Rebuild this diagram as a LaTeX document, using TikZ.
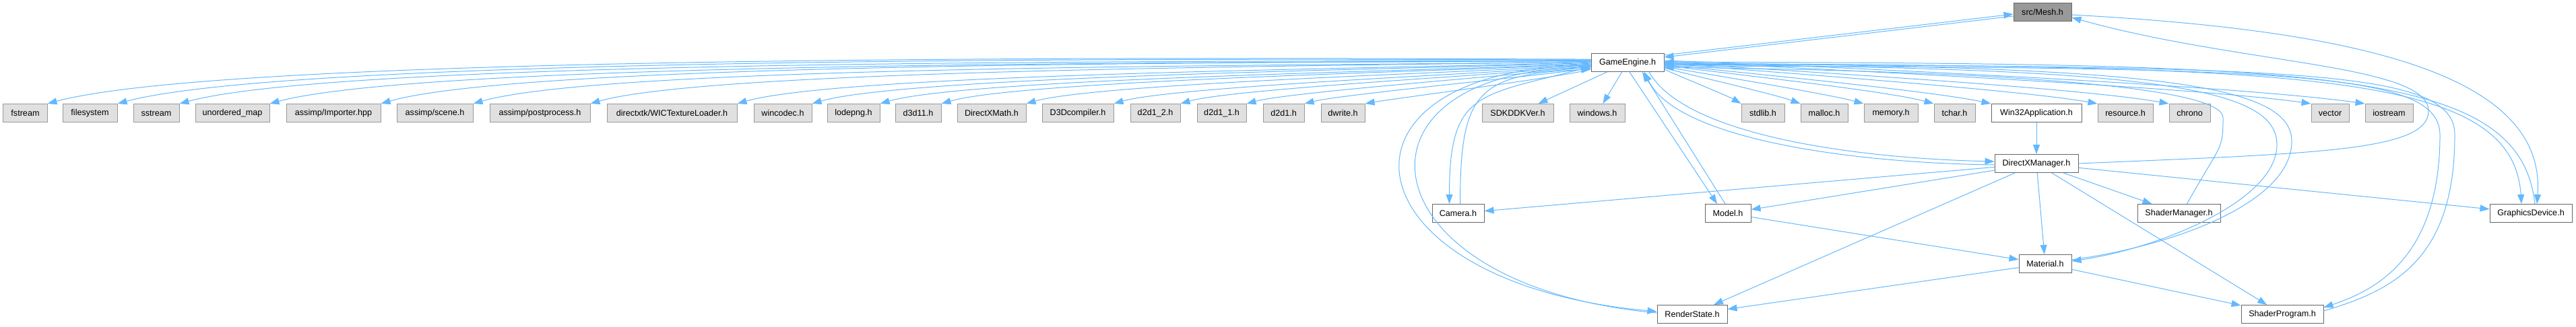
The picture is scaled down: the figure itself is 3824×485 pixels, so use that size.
\documentclass[tikz,border=0pt]{standalone}
\usepackage{fontspec}
\setmainfont{Liberation Sans}
\usetikzlibrary{arrows.meta}
\usepackage{xcolor}
\definecolor{EdgeBlue}{HTML}{63B8FF}
\definecolor{ExtFill}{HTML}{E0E0E0}
\definecolor{ExtLine}{HTML}{999999}
\definecolor{DocLine}{HTML}{666666}
\definecolor{RootFill}{HTML}{999999}

\begin{document}
\begin{tikzpicture}[
      x=0.2pt, y=0.2pt,
      every node/.style={font=\fontsize{2.52}{3}\selectfont},
      file/.style={rectangle, minimum height=5.4pt, inner sep=0pt, line width=0.2pt},
      ext/.style={file, draw=ExtLine, fill=ExtFill},
      doc/.style={file, draw=DocLine, fill=white},
      root/.style={file, draw=DocLine, fill=RootFill},
      edge/.style={-{Triangle[length=2.8pt,width=2pt]}, draw=EdgeBlue, line width=0.2pt}
    ]
    \useasboundingbox (0,0) rectangle (3824,-485);

    \node[root, minimum width=17.2pt] (mesh) at (3032,-18) {src/Mesh.h};
    \node[doc, minimum width=21.6pt] (ge) at (2416,-93) {GameEngine.h};

    % included headers
    \node[ext, minimum width=13pt] (fstream) at (37.5,-168) {fstream};
    \node[ext, minimum width=16.2pt] (filesys) at (133.5,-168) {filesystem};
    \node[ext, minimum width=13.6pt] (sstream) at (232,-168) {sstream};
    \node[ext, minimum width=22pt] (umap) at (345,-168) {unordered\_map};
    \node[ext, minimum width=28pt] (importer) at (495,-168) {assimp/Importer.hpp};
    \node[ext, minimum width=22.6pt] (scene) at (645.5,-168) {assimp/scene.h};
    \node[ext, minimum width=29.8pt] (postproc) at (801.5,-168) {assimp/postprocess.h};
    \node[ext, minimum width=38.6pt] (wicload) at (997.5,-168) {directxtk/WICTextureLoader.h};
    \node[ext, minimum width=17.2pt] (wincodec) at (1162,-168) {wincodec.h};
    \node[ext, minimum width=15.6pt] (lodepng) at (1267,-168) {lodepng.h};
    \node[ext, minimum width=13.6pt] (dxd) at (1363,-168) {d3d11.h};
    \node[ext, minimum width=20.4pt] (dxmath) at (1472,-168) {DirectXMath.h};
    \node[ext, minimum width=21.2pt] (d3dcomp) at (1600,-168) {D3Dcompiler.h};
    \node[ext, minimum width=14.8pt] (dtwo) at (1715,-168) {d2d1\_2.h};
    \node[ext, minimum width=14.6pt] (dtwoone) at (1813.5,-168) {d2d1\_1.h};
    \node[ext, minimum width=12.2pt] (done) at (1905.5,-168) {d2d1.h};
    \node[ext, minimum width=13pt] (dwrite) at (1993.5,-168) {dwrite.h};
    \node[ext, minimum width=21.2pt] (sdkver) at (2253,-168) {SDKDDKVer.h};
    \node[ext, minimum width=16.4pt] (windows) at (2371,-168) {windows.h};
    \node[ext, minimum width=12.8pt] (stdlib) at (2617,-168) {stdlib.h};
    \node[ext, minimum width=14pt] (malloc) at (2708,-168) {malloc.h};
    \node[ext, minimum width=16pt] (memory) at (2807,-168) {memory.h};
    \node[ext, minimum width=12.2pt] (tchar) at (2901.5,-168) {tchar.h};
    \node[doc, minimum width=26.8pt] (winapp) at (3023,-168) {Win32Application.h};
    \node[ext, minimum width=16.4pt] (resource) at (3155,-168) {resource.h};
    \node[ext, minimum width=12.2pt] (chrono) at (3250.5,-168) {chrono};
    \node[ext, minimum width=11.2pt] (vector) at (3459,-168) {vector};
    \node[ext, minimum width=14.2pt] (iostream) at (3546.5,-168) {iostream};

    % project headers
    \node[doc, minimum width=24.8pt] (dxm) at (3023,-243) {DirectXManager.h};
    \node[doc, minimum width=15.4pt] (camera) at (2164.5,-317) {Camera.h};
    \node[doc, minimum width=13.6pt] (model) at (2565,-317) {Model.h};
    \node[doc, minimum width=24.6pt] (shmgr) at (3234.5,-317) {ShaderManager.h};
    \node[doc, minimum width=24.4pt] (gfx) at (3757,-317) {GraphicsDevice.h};
    \node[doc, minimum width=15.6pt] (mat) at (3036,-392) {Material.h};
    \node[doc, minimum width=20.8pt] (rs) at (2512,-467) {RenderState.h};
    \node[doc, minimum width=24.4pt] (sp) at (3388,-467) {ShaderProgram.h};

    % GameEngine.h to its headers
    \foreach \t/\s/\o/\i in {fstream/1/180/15, filesys/0.8/180/15, sstream/0.8/181/15, umap/0.6/181/15,
        importer/0.6/181/16, scene/0.4/182/16, postproc/0.4/182/16, wicload/0.2/183/16, wincodec/0/183/16,
        lodepng/-0.2/184/16, dxd/-0.4/184/16, dxmath/-0.6/185/16, d3dcomp/-0.8/186/16, dtwo/-1/187/16,
        dtwoone/-1.2/188/15, done/-1.6/190/14, dwrite/-2/195/10}
      \draw[edge] ([yshift=\s pt]ge.west) to[out=\o, in=\i, looseness=0.35] (\t.north east);
    \foreach \t/\s/\o/\i in {stdlib/-2/-25/150, malloc/-1.6/-15/160, memory/-1.2/-10/165, tchar/-0.8/-8/165,
        winapp/-0.6/-6/168, resource/-0.2/-5/170, chrono/0/-4/170, vector/0.4/-3/172, iostream/0.6/-2/172}
      \draw[edge] ([yshift=\s pt]ge.east) to[out=\o, in=\i, looseness=0.5] (\t.north west);
    \draw[edge] (ge) -- (sdkver);
    \draw[edge] (ge) -- (windows);

    % Mesh.h and GameEngine.h
    \draw[edge] ([yshift=-1.2pt]mesh.west) -- ([yshift=1.6pt]ge.east);
    \draw[edge] ([yshift=2.2pt]ge.east) -- ([yshift=-0.6pt]mesh.west);

    \draw[edge] ([yshift=-1.2pt]ge.west) to[out=195, in=90, looseness=1.5] ([xshift=-2.6pt]camera.north);
    \draw[edge] ([xshift=0.6pt]camera.north) .. controls (2168,-140) and (2190,-110) .. ([yshift=-2pt]ge.west);
    \draw[edge] ([yshift=-0.8pt]ge.west) .. controls (1950,-100) and (1990,-420) .. ([yshift=0.8pt]rs.west);
    \draw[edge] ([yshift=0.4pt]rs.west) .. controls (2020,-425) and (1985,-105) .. ([yshift=-1.6pt]ge.west);
    \draw[edge] ([xshift=0.6pt]ge.south) -- ([xshift=-3.2pt]model.north);
    \draw[edge] ([xshift=-0.8pt]model.north) -- ([xshift=4.4pt]ge.south);
    \draw[edge] ([xshift=6.4pt]ge.south) .. controls (2500,-200) and (2750,-235) .. ([yshift=0.6pt]dxm.west);
    \draw[edge] ([yshift=-0.4pt]dxm.west) .. controls (2740,-242) and (2488,-205) .. ([xshift=5pt]ge.south);
    \draw[edge] ([yshift=-0.6pt]ge.east) .. controls (3200,-100) and (3380,-130) .. (3380,-215)
      .. controls (3380,-300) and (3200,-370) .. ([yshift=0.8pt]mat.east);
    \draw[edge] ([yshift=1.2pt]mat.east) .. controls (3230,-365) and (3402,-300) .. (3402,-210)
      .. controls (3402,-125) and (3200,-98) .. ([yshift=-0.2pt]ge.east);
    \draw[edge] ([yshift=-1pt]ge.east) .. controls (3400,-100) and (3620,-105) .. (3622,-200)
      .. controls (3622,-380) and (3530,-430) .. ([yshift=-0.8pt]sp.north east);
    \draw[edge] ([yshift=-1.8pt]sp.north east) .. controls (3560,-430) and (3644,-380) .. (3644,-200)
      .. controls (3644,-100) and (3400,-100) .. ([yshift=-0.4pt]ge.east);
    \draw[edge] ([yshift=-0.2pt]ge.east) .. controls (3400,-100) and (3730,-100) .. ([xshift=-2.8pt]gfx.north);
    \draw[edge] ([xshift=1.2pt]gfx.north) .. controls (3740,-100) and (3450,-95) .. ([yshift=0.2pt]ge.east);
    \draw[edge] ([xshift=2.4pt]shmgr.north) .. controls +(50,90) and +(0,-50) .. (3300,-175)
      .. controls +(0,50) and +(450,-5) .. ([yshift=-1.4pt]ge.east);

    % Mesh.h and the rest
    \draw[edge] ([yshift=-0.8pt]mesh.east) .. controls (3500,-45) and (3780,-110) .. ([xshift=1.8pt]gfx.north);
    \draw[edge] (dxm.east) .. controls +(350,15) and +(0,-60) .. (3605,-165)
      .. controls +(0,70) and +(250,-70) .. ([yshift=-1.6pt]mesh.east);

    % DirectXManager.h and below
    \draw[edge] (winapp) -- (dxm);
    \draw[edge] (dxm) -- (camera);
    \draw[edge] (dxm) -- (model);
    \draw[edge] (dxm) -- (rs);
    \draw[edge] (dxm) -- (mat);
    \draw[edge] (dxm) -- (sp);
    \draw[edge] (dxm) -- (shmgr);
    \draw[edge] (dxm) -- (gfx);
    \draw[edge] (model) -- (mat);
    \draw[edge] (mat) -- (rs);
    \draw[edge] (mat) -- (sp);
  \end{tikzpicture}
\end{document}
